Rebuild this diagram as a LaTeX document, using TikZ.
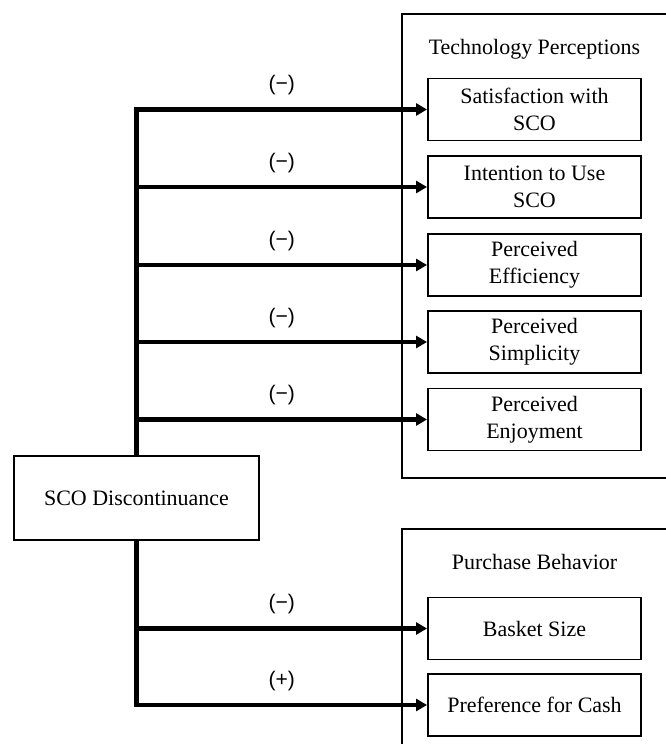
\documentclass[tikz,border=0pt]{standalone}
\usepackage{fontspec}
\setmainfont{Liberation Serif}
\setsansfont{Liberation Sans}
\usetikzlibrary{arrows.meta}

\begin{document}
\begin{tikzpicture}[font=\fontsize{12.5}{15.4}\selectfont]
        % ================= 样式定义 =================
        \tikzset{
            % 因变量方框
            item/.style={rectangle, draw=black, line width=1.1pt, fill=white, minimum width=4.26cm, minimum height=1.24cm, align=center, inner sep=2pt},
            % 分组外框
            group/.style={draw=black, line width=1pt},
            % 粗箭头
            link/.style={line width=2.3pt, -{Triangle[length=2.2mm, width=2.4mm]}},
            % 符号标注
            sign/.style={pos=0.75, yshift=0.48cm, font=\sffamily\fontsize{12}{14}\selectfont}
        }
        \clip (0,0) rectangle (13.32,14.88);

        % ================= 分组外框 =================
        \draw[group] (8.04,5.32) rectangle (14,14.6);
        \draw[group] (8.04,-1) rectangle (14,4.30);
        \node (tp) at (10.69,13.9) {Technology Perceptions};
        \node (pb) at (10.69,3.64) {Purchase Behavior};

        % ================= 自变量 =================
        \node[item, minimum width=4.9cm, minimum height=1.68cm] (sco) at (2.73,4.92) {SCO Discontinuance};

        % ================= 技术感知 =================
        \foreach \name/\txt/\y in {sat/{Satisfaction with\\SCO}/12.69, int/{Intention to Use\\SCO}/11.14,
            eff/{Perceived\\Efficiency}/9.58, sim/{Perceived\\Simplicity}/8.04, enj/{Perceived\\Enjoyment}/6.49} {
            \node[item] (\name) at (10.69,\y) {\txt};
        }

        % ================= 购买行为 =================
        \node[item] (bas) at (10.69,2.31) {Basket Size};
        \node[item] (cash) at (10.69,0.78) {Preference for Cash};

        % ================= 箭头 =================
        \foreach \name in {sat,int,eff,sim,enj} {
            \draw[link] (sco.north) |- node[sign] {(−)} (\name.west);
        }
        \draw[link] (sco.south) |- node[sign] {(−)} (bas.west);
        \draw[link] (sco.south) |- node[sign] {(+)} (cash.west);

\end{tikzpicture}
\end{document}
